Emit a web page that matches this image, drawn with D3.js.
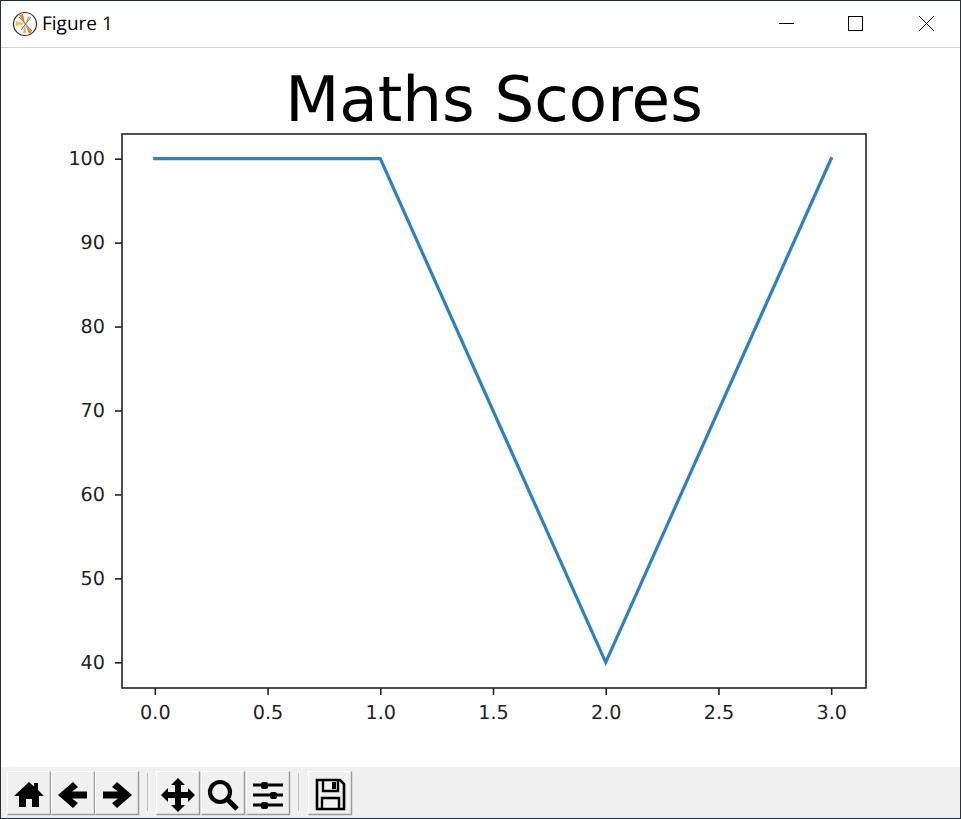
<!DOCTYPE html>
<html>
<head>
<meta charset="utf-8">
<style>
html,body{margin:0;padding:0;background:#fff;overflow:hidden}
svg{display:block}
text{font-family:"DejaVu Sans",sans-serif;text-rendering:geometricPrecision}
</style>
<script src="https://cdnjs.cloudflare.com/ajax/libs/d3/7.8.5/d3.min.js"></script>
</head>
<body>
<svg id="c" width="961" height="819"></svg>
<script>
const xValues = [0, 1, 2, 3];
const scores = [100, 100, 40, 100];
const xTicks = [0, 0.5, 1, 1.5, 2, 2.5, 3];
const yTicks = [40, 50, 60, 70, 80, 90, 100];
const chartTitle = "Maths Scores";
const windowTitle = "Figure 1";

const svg = d3.select("#c");
const W = 961, H = 819;
const L = 122, R = 866, T = 134, B = 688;

// window chrome
svg.append("rect").attr("width", W).attr("height", H).attr("fill", "#fff");
svg.append("rect").attr("width", W).attr("height", 1).attr("fill", "#1b2a38");
svg.append("rect").attr("x", 0).attr("y", 47).attr("width", W).attr("height", 1).attr("fill", "#d4d4d4");
svg.append("rect").attr("x", 0).attr("y", 0).attr("width", 1).attr("height", H).attr("fill", "#24323f");
svg.append("rect").attr("x", 960).attr("y", 0).attr("width", 1).attr("height", H).attr("fill", "#24323f");
svg.append("rect").attr("x", 0).attr("y", 818).attr("width", W).attr("height", 1).attr("fill", "#24323f");
svg.append("text").attr("x", 42).attr("y", 30).attr("font-size", 19).attr("fill", "#000")
  .style("font-family", "'Open Sans','Noto Sans',sans-serif").text(windowTitle);

// app icon
const ic = svg.append("g").attr("transform", "translate(25,24)");
ic.append("circle").attr("r", 11.5).attr("fill", "#fff").attr("stroke", "#333").attr("stroke-width", 1.2);
ic.append("path").attr("d", "M0,0L-6,-9L-2,-10Z").attr("fill", "#f47b20");
ic.append("path").attr("d", "M0,0L7,8L4,10Z").attr("fill", "#f47b20");
ic.append("path").attr("d", "M0,0L-9,-3L-9,2Z").attr("fill", "#f5c242");
ic.append("path").attr("d", "M0,0L3,-8L5,-7Z").attr("fill", "#a5c85a");
ic.append("path").attr("d", "M0,0L-2,9L1,9Z").attr("fill", "#8fd08f");
ic.append("path").attr("d", "M-6,-7L7,7M6,-7L-4,6").attr("stroke", "#333").attr("stroke-width", 0.7);

// window buttons
svg.append("path").attr("d", "M779,23.5H794").attr("stroke", "#000").attr("stroke-width", 1);
svg.append("rect").attr("x", 848.5).attr("y", 16.5).attr("width", 14).attr("height", 14)
  .attr("fill", "none").attr("stroke", "#000").attr("stroke-width", 1);
svg.append("path").attr("d", "M919,16L934,31M934,16L919,31").attr("stroke", "#000").attr("stroke-width", 1);

// plot
const x = d3.scaleLinear().domain([-0.15, 3.15]).range([L - 1, R - 1]);
const y = d3.scaleLinear().domain([37, 103]).range([B - 0.5, T - 0.5]);

svg.append("text").attr("x", 494).attr("y", 121).attr("text-anchor", "middle")
  .attr("font-size", 62.7).attr("fill", "#000").text(chartTitle);

const xa = svg.append("g").attr("transform", `translate(0,${B})`)
  .call(d3.axisBottom(x).tickValues(xTicks).tickFormat(d3.format(".1f")).tickSize(7).tickPadding(10));
const ya = svg.append("g").attr("transform", `translate(${L},0)`)
  .call(d3.axisLeft(y).tickValues(yTicks).tickFormat(d => d).tickSize(7).tickPadding(10));
[xa, ya].forEach(a => {
  a.select(".domain").remove();
  a.selectAll("line").attr("stroke", "#222").attr("stroke-width", 1.6);
  a.selectAll("text").attr("font-size", 19.2).attr("fill", "#222").style("font-family", "'DejaVu Sans',sans-serif");
});

const line = d3.line().x((d, i) => x(xValues[i])).y(d => y(d));
svg.append("path").datum(scores).attr("d", line).attr("fill", "none")
  .attr("stroke", "#2f80bd").attr("stroke-width", 3.2).attr("stroke-linejoin", "miter").attr("stroke-linecap", "square");

svg.append("rect").attr("x", L).attr("y", T).attr("width", R - L).attr("height", B - T)
  .attr("fill", "none").attr("stroke", "#222").attr("stroke-width", 1.6);

// toolbar
svg.append("rect").attr("x", 1).attr("y", 767).attr("width", W - 2).attr("height", 51).attr("fill", "#f0f0f0");
const icons = [
  {x: 7,  d: "M-15,1L0,-13L5,-8.5V-12H9V-5L15,1H10V12H3V4H-3V12H-10V1Z"},
  {x: 51, d: "M0,-13L-15,0L0,13L5,8L-1,3.5H14V-3.5H-1L5,-8Z"},
  {x: 95, d: "M0,-13L15,0L0,13L-5,8L1,3.5H-14V-3.5H1L-5,-8Z"},
  {x: 156, d: "M0,-17L7,-10H3V-3H10V-7L17,0L10,7V3H3V10H7L0,17L-7,10H-3V3H-10V7L-17,0L-10,-7V-3H-3V-10H-7Z"},
  {x: 201, d: null, kind: "zoom"},
  {x: 246, d: null, kind: "sliders"},
  {x: 308, d: null, kind: "save"}
];
icons.forEach(b => {
  const g = svg.append("g").attr("transform", `translate(${b.x},771)`);
  g.append("rect").attr("x", 0.5).attr("y", 0.5).attr("width", 43).attr("height", 43).attr("fill", "#f0f0f0");
  g.append("path").attr("d", "M0.5,43.5V0.5H43").attr("fill", "none").attr("stroke", "#fff");
  g.append("path").attr("d", "M0.5,43.5H43.5V0.5").attr("fill", "none").attr("stroke", "#9a9a9a").attr("stroke-width", 1.5);
  const c = g.append("g").attr("transform", "translate(22,24)");
  if (b.d) c.append("path").attr("d", b.d).attr("fill", "#000");
  if (b.kind === "zoom") {
    c.append("circle").attr("cx", -3).attr("cy", -3).attr("r", 10).attr("fill", "none").attr("stroke", "#000").attr("stroke-width", 4.2);
    c.append("path").attr("d", "M4,4L14,14").attr("stroke", "#000").attr("stroke-width", 5);
  }
  if (b.kind === "sliders") {
    c.append("path").attr("d", "M-15,-10H15M-15,0H15M-15,10H15").attr("stroke", "#000").attr("stroke-width", 3);
    c.append("rect").attr("x", -7).attr("y", -13).attr("width", 7).attr("height", 7).attr("rx", 2);
    c.append("rect").attr("x", 2).attr("y", -3).attr("width", 7).attr("height", 7).attr("rx", 2);
    c.append("rect").attr("x", -7).attr("y", 7).attr("width", 7).attr("height", 7).attr("rx", 2);
  }
  if (b.kind === "save") {
    c.append("path").attr("d", "M-13,-15H10L14,-11V14H-13Z").attr("fill", "#f0f0f0").attr("stroke", "#000").attr("stroke-width", 2.6);
    c.append("path").attr("d", "M-7,-15V-4H8V-15").attr("fill", "none").attr("stroke", "#000").attr("stroke-width", 2.4);
    c.append("rect").attr("x", 2).attr("y", -13).attr("width", 4).attr("height", 7);
    c.append("path").attr("d", "M-8,14V3H9V14").attr("fill", "none").attr("stroke", "#000").attr("stroke-width", 2.4);
  }
});
svg.append("rect").attr("x", 147).attr("y", 773).attr("width", 1).attr("height", 38).attr("fill", "#bdbdbd");
svg.append("rect").attr("x", 298).attr("y", 773).attr("width", 1).attr("height", 38).attr("fill", "#bdbdbd");
</script>
</body>
</html>
